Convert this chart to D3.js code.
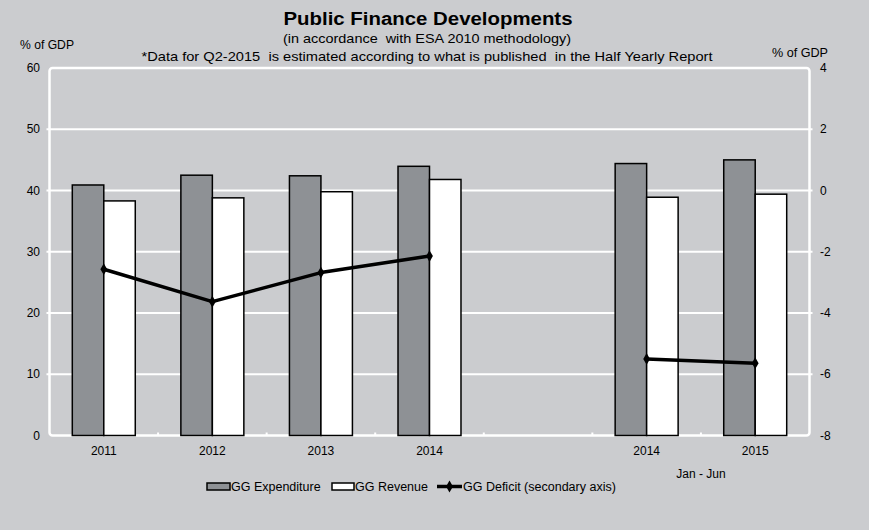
<!DOCTYPE html>
<html>
<head>
<meta charset="utf-8">
<script src="https://cdn.jsdelivr.net/npm/d3@7/dist/d3.min.js"></script>
<style>
  html, body { margin: 0; padding: 0; background: #cbcccf; }
  svg { display: block; font-family: "Liberation Sans", Arial, sans-serif; }
</style>
</head>
<body>
<svg id="chart" width="869" height="530"></svg>
<script>
// Categories (annual figures, a gap, then January-June figures)
const categories = ["2011", "2012", "2013", "2014", "", "2014", "2015"];
// General government expenditure, % of GDP (left axis)
const expenditure = [40.9, 42.5, 42.4, 43.95, null, 44.4, 45.0];
// General government revenue, % of GDP (left axis)
const revenue = [38.3, 38.8, 39.8, 41.8, null, 38.9, 39.4];
// General government deficit, % of GDP (right axis)
const deficit = [-2.57, -3.63, -2.68, -2.14, null, -5.50, -5.64];
const leftTicks = [0, 10, 20, 30, 40, 50, 60];
const rightTicks = [-8, -6, -4, -2, 0, 2, 4];

const svg = d3.select("#chart");
const W = 869, H = 530;
const bg = "#cbcccf", expFill = "#8e9195";

svg.append("rect").attr("width", W).attr("height", H).attr("fill", bg);

const plot = { left: 49.5, right: 809.5, top: 68, bottom: 435.5 };

const x = d3.scaleBand().domain(d3.range(categories.length))
  .range([plot.left, plot.right]).paddingInner(0).paddingOuter(0);
const yL = d3.scaleLinear().domain([0, 60]).range([plot.bottom, plot.top]);
const yR = d3.scaleLinear().domain([-8, 4]).range([plot.bottom, plot.top]);

const barW = x.bandwidth() * 0.29;

// Gridlines
svg.append("g").selectAll("line").data(leftTicks.slice(1, -1)).join("line")
  .attr("x1", plot.left - 3).attr("x2", plot.right + 3)
  .attr("y1", d => yL(d)).attr("y2", d => yL(d))
  .attr("stroke", "#ffffff").attr("stroke-width", 2);

// Bottom-axis category ticks
svg.append("g").selectAll("line").data(d3.range(1, categories.length)).join("line")
  .attr("x1", i => x(i)).attr("x2", i => x(i))
  .attr("y1", plot.bottom).attr("y2", plot.bottom - 3)
  .attr("stroke", "#ffffff").attr("stroke-width", 2);

// Plot frame
svg.append("rect")
  .attr("x", plot.left).attr("y", plot.top)
  .attr("width", plot.right - plot.left).attr("height", plot.bottom - plot.top)
  .attr("rx", 3).attr("fill", "none")
  .attr("stroke", "#ffffff").attr("stroke-width", 2.5);

// Bars
const cx = i => x(i) + x.bandwidth() / 2;
const idx = d3.range(categories.length).filter(i => expenditure[i] != null);
svg.append("g").selectAll("rect").data(idx).join("rect")
  .attr("x", i => cx(i) - barW).attr("width", barW)
  .attr("y", i => yL(expenditure[i])).attr("height", i => yL(0) - yL(expenditure[i]))
  .attr("fill", expFill).attr("stroke", "#000").attr("stroke-width", 1.5);
svg.append("g").selectAll("rect").data(idx).join("rect")
  .attr("x", i => cx(i)).attr("width", barW)
  .attr("y", i => yL(revenue[i])).attr("height", i => yL(0) - yL(revenue[i]))
  .attr("fill", "#ffffff").attr("stroke", "#000").attr("stroke-width", 1.5);

// Deficit line on secondary axis
const line = d3.line()
  .defined(i => deficit[i] != null)
  .x(i => cx(i)).y(i => yR(deficit[i]));
svg.append("path").datum(d3.range(categories.length))
  .attr("d", line).attr("fill", "none")
  .attr("stroke", "#000").attr("stroke-width", 3.5).attr("stroke-linejoin", "round");
const diamond = d3.symbol().type(d3.symbolDiamond).size(40);
svg.append("g").selectAll("path").data(idx).join("path")
  .attr("d", diamond)
  .attr("transform", i => `translate(${cx(i)},${yR(deficit[i])})`)
  .attr("fill", "#000");

// Axes labels
const axisFont = 12;
svg.append("g").selectAll("text").data(leftTicks).join("text")
  .attr("x", 40).attr("y", d => yL(d) + 4)
  .attr("text-anchor", "end").attr("font-size", axisFont).attr("fill", "#000")
  .text(d => d);
svg.append("g").selectAll("text").data(rightTicks).join("text")
  .attr("x", 820).attr("y", d => yR(d) + 4)
  .attr("text-anchor", "start").attr("font-size", axisFont).attr("fill", "#000")
  .text(d => d);
svg.append("g").selectAll("text").data(d3.range(categories.length)).join("text")
  .attr("x", i => cx(i)).attr("y", 455)
  .attr("text-anchor", "middle").attr("font-size", axisFont).attr("fill", "#000")
  .text(i => categories[i]);
svg.append("text")
  .attr("x", (cx(5) + cx(6)) / 2).attr("y", 478)
  .attr("text-anchor", "middle").attr("font-size", axisFont).text("Jan - Jun");

svg.append("text").attr("x", 20).attr("y", 49).attr("font-size", 12)
  .attr("textLength", 54).attr("lengthAdjust", "spacingAndGlyphs").text("% of GDP");
svg.append("text").attr("x", 772).attr("y", 57).attr("font-size", 12)
  .attr("textLength", 56).attr("lengthAdjust", "spacingAndGlyphs").text("% of GDP");

// Titles
svg.append("text").attr("x", 428).attr("y", 25).attr("text-anchor", "middle")
  .attr("font-size", 18).attr("font-weight", "bold")
  .attr("textLength", 289).attr("lengthAdjust", "spacingAndGlyphs")
  .text("Public Finance Developments");
svg.append("text").attr("x", 427).attr("y", 43).attr("text-anchor", "middle")
  .attr("font-size", 13).style("white-space", "pre")
  .attr("textLength", 288).attr("lengthAdjust", "spacingAndGlyphs")
  .text("(in accordance  with ESA 2010 methodology)");
svg.append("text").attr("x", 427).attr("y", 61).attr("text-anchor", "middle")
  .attr("font-size", 13).style("white-space", "pre")
  .attr("textLength", 571).attr("lengthAdjust", "spacingAndGlyphs")
  .text("*Data for Q2-2015  is estimated according to what is published  in the Half Yearly Report");

// Legend
const lg = svg.append("g").attr("font-size", 12.5);
lg.append("rect").attr("x", 207).attr("y", 483).attr("width", 23).attr("height", 7)
  .attr("fill", expFill).attr("stroke", "#000").attr("stroke-width", 1.5);
lg.append("text").attr("x", 231).attr("y", 491).text("GG Expenditure");
lg.append("rect").attr("x", 332).attr("y", 483).attr("width", 22).attr("height", 7)
  .attr("fill", "#ffffff").attr("stroke", "#000").attr("stroke-width", 1.5);
lg.append("text").attr("x", 355).attr("y", 491).text("GG Revenue");
lg.append("line").attr("x1", 437).attr("x2", 462).attr("y1", 486.5).attr("y2", 486.5)
  .attr("stroke", "#000").attr("stroke-width", 3.5);
lg.append("path").attr("d", diamond).attr("transform", "translate(449.5,486.5)").attr("fill", "#000");
lg.append("text").attr("x", 463).attr("y", 491).text("GG Deficit (secondary axis)");
</script>
</body>
</html>
